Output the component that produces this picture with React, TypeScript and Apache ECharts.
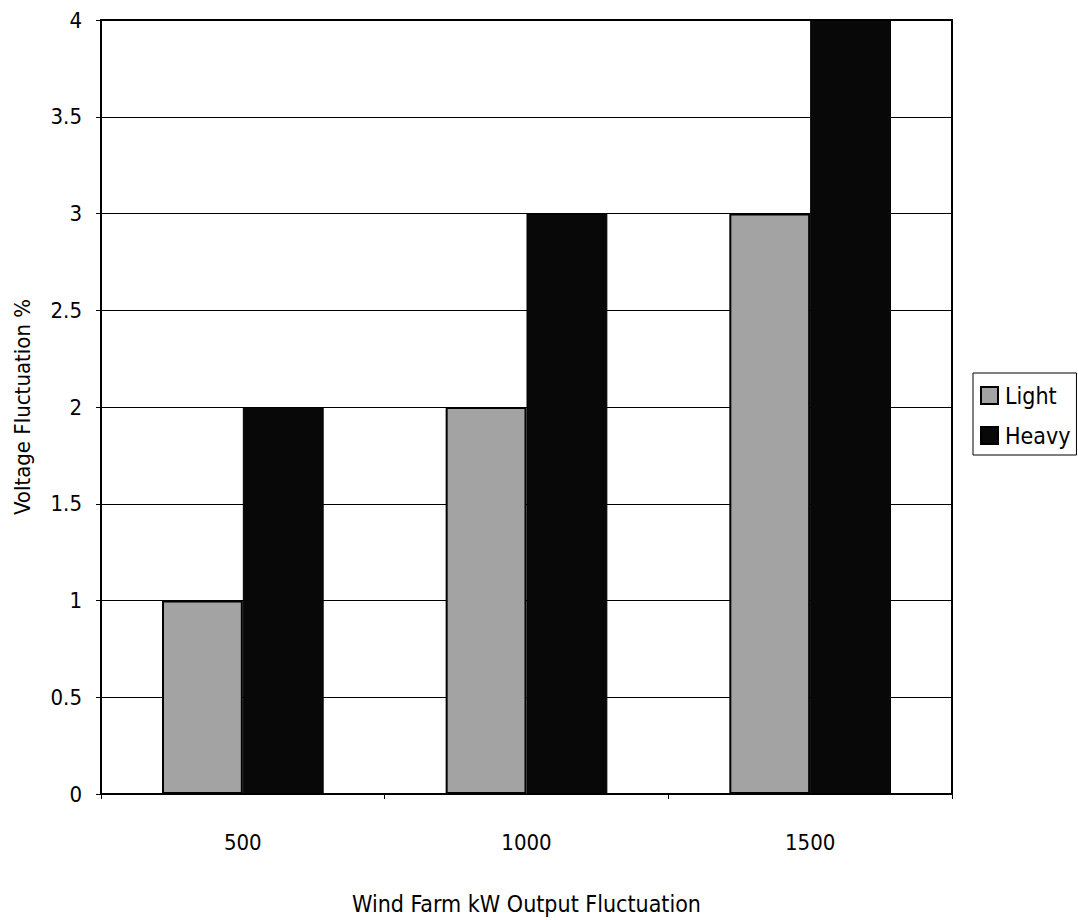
import React, { useEffect, useRef } from "react";
import * as echarts from "echarts";

const categories = ["500", "1000", "1500"];
const lightValues = [1, 2, 3];
const heavyValues = [2, 3, 4];
const seriesNames = ["Light", "Heavy"];

const FONT = "'DejaVu Sans Condensed', 'Liberation Sans Narrow', 'Liberation Sans', Arial, sans-serif";

export default function App() {
  const ref = useRef<HTMLDivElement>(null);

  useEffect(() => {
    if (!ref.current) return;
    const chart = echarts.init(ref.current, null, { renderer: "svg" });
    chart.setOption({
      animation: false,
      backgroundColor: "#ffffff",
      textStyle: { fontFamily: FONT, color: "#000" },
      grid: {
        left: 101,
        top: 20,
        right: 126,
        bottom: 117,
        show: true,
        borderColor: "#000",
        borderWidth: 2,
        backgroundColor: "transparent",
      },
      legend: {
        orient: "vertical",
        left: 973,
        top: 373,
        padding: [11, 6, 8, 7],
        itemGap: 17,
        itemWidth: 17,
        itemHeight: 17,
        icon: "rect",
        borderColor: "#000",
        borderWidth: 1,
        selectedMode: false,
        textStyle: { fontFamily: FONT, fontSize: 23, color: "#000", padding: [0, 0, 0, 2], lineHeight: 23 },
        data: seriesNames,
      },
      xAxis: {
        type: "category",
        data: categories,
        boundaryGap: true,
        name: "Wind Farm kW Output Fluctuation",
        nameLocation: "middle",
        nameGap: 98,
        nameTextStyle: { fontFamily: FONT, fontSize: 23, color: "#000" },
        axisLine: { show: true, lineStyle: { color: "#000", width: 2 } },
        axisTick: { show: true, alignWithLabel: false, length: 5, lineStyle: { color: "#000", width: 1 } },
        axisLabel: { fontFamily: FONT, fontSize: 22, color: "#000", margin: 37 },
        splitLine: { show: false },
      },
      yAxis: {
        type: "value",
        min: 0,
        max: 4,
        interval: 0.5,
        name: "Voltage Fluctuation %",
        nameLocation: "middle",
        nameRotate: 90,
        nameGap: 68,
        nameTextStyle: { fontFamily: FONT, fontSize: 22, color: "#000" },
        axisLine: { show: true, lineStyle: { color: "#000", width: 2 } },
        axisTick: { show: true, length: 5, lineStyle: { color: "#000", width: 1 } },
        axisLabel: { fontFamily: FONT, fontSize: 22, color: "#000", margin: 19 },
        splitLine: { show: true, lineStyle: { color: "#000", width: 1 } },
      },
      series: [
        {
          name: seriesNames[0],
          type: "bar",
          data: lightValues,
          barGap: "0%",
          barCategoryGap: "43%",
          itemStyle: { color: "#a3a3a3", borderColor: "#000", borderWidth: 2 },
        },
        {
          name: seriesNames[1],
          type: "bar",
          data: heavyValues,
          barGap: "0%",
          barCategoryGap: "43%",
          itemStyle: { color: "#080808", borderColor: "#000", borderWidth: 1 },
        },
      ],
    });
    return () => chart.dispose();
  }, []);

  return (
    <div
      ref={ref}
      style={{ position: "absolute", left: 0, top: 0, width: 1078, height: 920, background: "#fff" }}
    />
  );
}
